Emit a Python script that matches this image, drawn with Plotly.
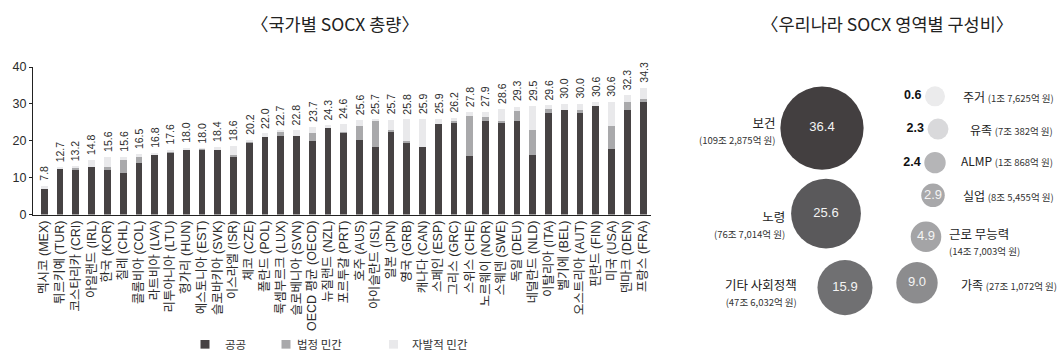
import plotly.graph_objects as go

# ---------------------------------------------------------------
# Data: social expenditure (SOCX, % of GDP) by country
# ---------------------------------------------------------------
countries = [
    "멕시코 (MEX)", "튀르키예 (TUR)", "코스타리카 (CRI)", "아일랜드 (IRL)", "한국 (KOR)",
    "칠레 (CHL)", "콜롬비아 (COL)", "라트비아 (LVA)", "리투아니아 (LTU)", "헝가리 (HUN)",
    "에스토니아 (EST)", "슬로바키아 (SVK)", "이스라엘 (ISR)", "체코 (CZE)", "폴란드 (POL)",
    "룩셈부르크 (LUX)", "슬로베니아 (SVN)", "OECD 평균 (OECD)", "뉴질랜드 (NZL)", "포르투갈 (PRT)",
    "호주 (AUS)", "아이슬란드 (ISL)", "일본 (JPN)", "영국 (GRB)", "캐나다 (CAN)",
    "스페인 (ESP)", "그리스 (GRC)", "스위스 (CHE)", "노르웨이 (NOR)", "스웨덴 (SWE)",
    "독일 (DEU)", "네덜란드 (NLD)", "이탈리아 (ITA)", "벨기에 (BEL)", "오스트리아 (AUT)",
    "핀란드 (FIN)", "미국 (USA)", "덴마크 (DEN)", "프랑스 (FRA)",
]
totals = [
    7.8, 12.7, 13.2, 14.8, 15.6, 15.6, 16.5, 16.8, 17.6, 18.0,
    18.0, 18.4, 18.6, 20.2, 22.0, 22.7, 22.8, 23.7, 24.3, 24.6,
    25.6, 25.7, 25.7, 25.8, 25.9, 25.9, 26.2, 27.8, 27.9, 28.6,
    29.3, 29.5, 29.6, 30.0, 30.0, 30.6, 30.6, 32.3, 34.3,
]
public = [
    7.0, 12.4, 12.3, 12.8, 12.2, 11.4, 14.0, 16.3, 16.9, 17.7,
    17.7, 17.4, 15.8, 19.5, 21.0, 21.3, 21.3, 20.0, 23.4, 22.3,
    20.2, 18.4, 22.6, 19.4, 18.4, 24.5, 25.0, 15.8, 25.3, 25.0,
    25.4, 16.1, 27.5, 28.4, 27.5, 29.4, 17.9, 28.3, 30.6,
]
mandatory = [
    0.0, 0.0, 0.3, 0.0, 0.7, 3.4, 1.5, 0.0, 0.3, 0.0,
    0.1, 0.0, 0.3, 0.4, 0.0, 1.2, 0.0, 2.0, 0.0, 0.1,
    3.7, 7.1, 0.3, 0.6, 0.0, 0.0, 0.5, 11.0, 1.2, 0.3,
    2.6, 6.8, 1.1, 0.0, 0.8, 0.0, 6.0, 2.3, 0.8,
]
voluntary = [
    0.8, 0.3, 0.6, 2.0, 2.7, 0.8, 1.0, 0.5, 0.4, 0.3,
    0.2, 1.0, 2.5, 0.3, 1.0, 0.2, 1.5, 1.7, 0.9, 2.2,
    1.7, 0.2, 2.8, 5.8, 7.5, 1.4, 0.7, 1.0, 1.4, 3.3,
    1.3, 6.6, 1.0, 1.6, 1.7, 1.2, 6.7, 1.7, 2.9,
]
series_names = ["공공", "법정 민간", "자발적 민간"]
y_ticks = [0, 10, 20, 30, 40]

# ---------------------------------------------------------------
# Data: Korea's SOCX composition by area (%)
# ---------------------------------------------------------------
areas = ["보건", "노령", "기타 사회정책", "주거", "유족", "ALMP", "실업", "근로 무능력", "가족"]
shares = [36.4, 25.6, 15.9, 0.6, 2.3, 2.4, 2.9, 4.9, 9.0]
amounts = [
    "(109조 2,875억 원)", "(76조 7,014억 원)", "(47조 6,032억 원)", "(1조 7,625억 원)",
    "(7조 382억 원)", "(1조 868억 원)", "(8조 5,455억 원)", "(14조 7,003억 원)",
    "(27조 1,072억 원)",
]

# ---------------------------------------------------------------
# Styling / layout constants
# ---------------------------------------------------------------
W, H = 1062, 359
LAT = "Liberation Sans, Arial, Noto Sans CJK KR, sans-serif"
KR = "Noto Sans CJK KR, Liberation Sans, sans-serif"
TXT = "#2b2b2b"
bar_colors = ["#464243", "#a9a9ab", "#e9e9eb"]

# bubble placement on the right-hand panel (panel canvas units)
bubble_x = [822, 826, 845, 935, 938, 935, 933, 926, 917]
bubble_y = [126, 215, 292, 93, 127, 162, 196, 239, 287]
bubble_colors = ["#433f40", "#5a595b", "#707072", "#ebebec", "#d9d9db",
                 "#b5b5b7", "#a8a8aa", "#a4a4a6", "#8c8c8e"]
value_inside = [True, True, True, False, False, False, True, True, True]
# label anchors: (x, y, side) in panel canvas units
label_pos = [
    (777, 128, "right"), (787, 226, "right"), (799, 297, "right"),
    (961, 93, "left"), (968, 127, "left"), (959, 160, "left"),
    (961, 196, "left"), (947, 243, "left"), (959, 289, "left"),
]
two_line = [True, True, True, False, False, False, False, True, False]

# legend key positions (pixels): swatch centre x, label left x
legend_keys = [(205, 223), (286, 295), (393.5, 410)]
LEGEND_Y = 351
SWATCH = 9


def px_x(p):
    return p / W


def px_y(p):
    return 1 - p / H


fig = go.Figure()

# stacked bars
for name, vals, col in zip(series_names, [public, mandatory, voluntary], bar_colors):
    fig.add_trace(go.Bar(
        x=countries, y=vals, name=name, marker=dict(color=col, line=dict(width=0)),
        xaxis="x", yaxis="y", hoverinfo="skip", showlegend=False,
    ))

annotations = []
shapes = []
for c, t in zip(countries, totals):
    annotations.append(dict(
        x=c, y=t, xref="x", yref="y", text=f"{t:.1f}", showarrow=False,
        textangle=-90, xanchor="center", yanchor="bottom", yshift=3,
        font=dict(family=LAT, size=10.5, color=TXT),
    ))

# bar legend below the country axis
for name, col, (sx, tx) in zip(series_names, bar_colors, legend_keys):
    shapes.append(dict(
        type="rect", xref="paper", yref="paper",
        x0=px_x(sx - SWATCH / 2), x1=px_x(sx + SWATCH / 2),
        y0=px_y(LEGEND_Y + SWATCH / 2), y1=px_y(LEGEND_Y - SWATCH / 2),
        fillcolor=col, line=dict(width=0),
    ))
    annotations.append(dict(
        x=px_x(tx), y=px_y(LEGEND_Y), xref="paper", yref="paper",
        xanchor="left", yanchor="middle", text=name, showarrow=False,
        font=dict(family=KR, size=11.5, color="#333"),
    ))

# bubbles (area proportional to share)
fig.add_trace(go.Scatter(
    x=bubble_x, y=bubble_y, xaxis="x2", yaxis="y2", mode="markers+text",
    marker=dict(size=shares, sizemode="area", sizeref=0.0105, sizemin=10,
                color=bubble_colors, line=dict(width=0), opacity=1),
    text=[f"{v:.1f}" if ins else f"<b>{v:.1f}</b>" for v, ins in zip(shares, value_inside)],
    textposition=["middle center" if ins else "middle left" for ins in value_inside],
    textfont=dict(family=LAT, size=[13 if ins else 12.5 for ins in value_inside],
                  color=["#f4f4f4" if ins else "#111111" for ins in value_inside]),
    showlegend=False, hoverinfo="skip",
))

for name, amt, (lx, ly, side), tl in zip(areas, amounts, label_pos, two_line):
    if tl:
        txt = (f"<span style='font-size:12.5px;color:#222'>{name}</span><br>"
               f"<span style='font-size:9.5px;color:#333'>{amt}</span>")
    else:
        txt = (f"<span style='font-size:12px;color:#222'>{name}</span> "
               f"<span style='font-size:9.5px;color:#333'>{amt}</span>")
    annotations.append(dict(
        x=lx, y=ly, xref="x2", yref="y2", text=txt, showarrow=False,
        xanchor=side, yanchor="middle", align=side,
        font=dict(family=KR, size=12, color=TXT),
    ))

# panel titles
for tx, title in [(335, "〈국가별 SOCX 총량〉"), (887, "〈우리나라 SOCX 영역별 구성비〉")]:
    annotations.append(dict(x=px_x(tx), y=px_y(17), xref="paper", yref="paper",
                            xanchor="center", yanchor="middle",
                            text=title, showarrow=False,
                            font=dict(family=KR, size=17.5, color="#222")))

fig.update_layout(
    width=W, height=H, margin=dict(l=0, r=0, t=0, b=0),
    paper_bgcolor="white", plot_bgcolor="white",
    barmode="stack", bargap=0.57, showlegend=False,
    font=dict(family=KR, color=TXT),
    xaxis=dict(domain=[px_x(33), px_x(651)], range=[-0.72, 38.5],
               showline=True, linecolor="#222", linewidth=1, ticks="",
               tickangle=-90, tickfont=dict(family=LAT, size=12.5, color=TXT),
               showgrid=False, zeroline=False, fixedrange=True, anchor="y"),
    yaxis=dict(domain=[px_y(216), px_y(62.5)], range=[0, 40], tickvals=y_ticks,
               showline=True, linecolor="#222", linewidth=1, ticks="outside",
               ticklen=3, tickcolor="#222", tickfont=dict(family=LAT, size=12.5, color=TXT),
               showgrid=False, zeroline=False, fixedrange=True, anchor="x"),
    xaxis2=dict(domain=[px_x(680), 1], range=[680, 1062], visible=False,
                fixedrange=True, anchor="y2"),
    yaxis2=dict(domain=[0, 1], range=[359, 0], visible=False,
                fixedrange=True, anchor="x2"),
    annotations=annotations,
    shapes=shapes,
)

fig.write_html("out.html")
